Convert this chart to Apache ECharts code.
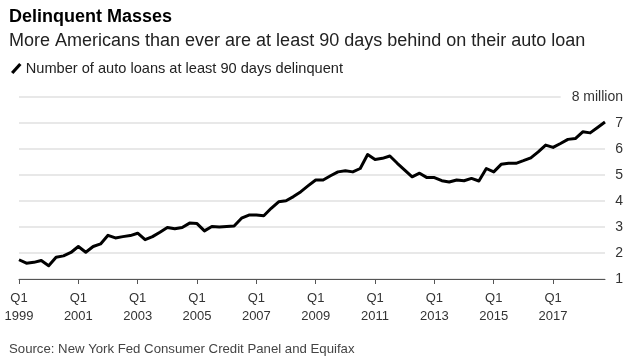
<!DOCTYPE html>
<html>
<head>
<meta charset="utf-8">
<script src="https://cdn.jsdelivr.net/npm/echarts@6/dist/echarts.min.js"></script>
<style>
html,body{margin:0;padding:0;background:#fff;}
#chart{width:640px;height:364px;}
</style>
</head>
<body>
<div id="chart"></div>
<script>
// Quarters Q1 1999 .. Q4 2018
const years = [1999,2000,2001,2002,2003,2004,2005,2006,2007,2008,2009,2010,2011,2012,2013,2014,2015,2016,2017,2018];
const quarters = ['Q1','Q2','Q3','Q4'];
const categories = [];
years.forEach(y => quarters.forEach(q => categories.push(q + ' ' + y)));

// Number of auto loans at least 90 days delinquent (millions)
const delinquent = [
  1.74, 1.61, 1.64, 1.71, 1.51, 1.84, 1.89, 2.02,
  2.25, 2.03, 2.25, 2.35, 2.68, 2.58, 2.63, 2.67,
  2.76, 2.51, 2.63, 2.80, 2.98, 2.93, 2.98, 3.15,
  3.13, 2.85, 3.02, 3.00, 3.02, 3.04, 3.34, 3.46,
  3.46, 3.43, 3.72, 3.97, 4.01, 4.17, 4.36, 4.59,
  4.81, 4.81, 4.97, 5.12, 5.16, 5.12, 5.25, 5.79,
  5.60, 5.64, 5.73, 5.45, 5.19, 4.93, 5.07, 4.90,
  4.90, 4.78, 4.73, 4.81, 4.78, 4.87, 4.77, 5.25,
  5.12, 5.41, 5.45, 5.45, 5.55, 5.66, 5.89, 6.15,
  6.06, 6.21, 6.37, 6.40, 6.66, 6.62, 6.83, 7.04
];

const titleText = 'Delinquent Masses';
const subtitleText = 'More Americans than ever are at least 90 days behind on their auto loan';
const seriesName = 'Number of auto loans at least 90 days delinquent';
const sourceText = 'Source: New York Fed Consumer Credit Panel and Equifax';

const chart = echarts.init(document.getElementById('chart'), null, {renderer: 'canvas'});
const FONT = 'Liberation Sans, Arial, sans-serif';

chart.setOption({
  animation: false,
  backgroundColor: '#fff',
  textStyle: {fontFamily: FONT},
  title: [
    {
      text: titleText,
      subtext: subtitleText,
      left: 4, top: 3,
      itemGap: 6,
      textStyle: {fontFamily: FONT, fontSize: 18, fontWeight: 'bold', color: '#000'},
      subtextStyle: {fontFamily: FONT, fontSize: 18, color: '#222'}
    },
    {
      text: sourceText,
      left: 4, bottom: 3,
      textStyle: {fontFamily: FONT, fontSize: 13.2, fontWeight: 'normal', color: '#444'}
    }
  ],
  legend: {
    left: 6, top: 56,
    itemWidth: 11, itemHeight: 11,
    itemGap: 5,
    icon: 'path://M0,9.5 L8.5,0 L11,2 L2.5,11.5 Z',
    textStyle: {fontFamily: FONT, fontSize: 14.6, color: '#222', padding: [0,0,0,-1]},
    data: [{name: seriesName, itemStyle: {color: '#000'}}]
  },
  grid: {left: 19, right: 35, top: 97, bottom: 85, containLabel: false},
  xAxis: {
    type: 'category',
    data: categories,
    boundaryGap: false,
    axisLine: {show: true, lineStyle: {color: '#555', width: 1}},
    axisTick: {show: true, interval: 7, length: 5, lineStyle: {color: '#555'}},
    axisLabel: {
      interval: 7,
      margin: 10,
      fontFamily: FONT, fontSize: 13, color: '#333', lineHeight: 18,
      formatter: v => v.replace(' ', '\n')
    },
    splitLine: {show: false}
  },
  yAxis: {
    type: 'value',
    position: 'right',
    min: 1, max: 8, interval: 1,
    axisLine: {show: false},
    axisTick: {show: false},
    splitLine: {show: true, lineStyle: {color: '#e0e0e0', width: 1.5}},
    axisLabel: {
      align: 'right',
      margin: 18,
      fontFamily: FONT, fontSize: 14, color: '#333',
      formatter: v => v === 8 ? '{m|8 million}' : String(v),
      rich: {m: {fontFamily: FONT, fontSize: 14, color: '#333', backgroundColor: '#fff', padding: [3, 0, 3, 11]}}
    }
  },
  series: [{
    name: seriesName,
    type: 'line',
    data: delinquent,
    symbol: 'none',
    lineStyle: {color: '#000', width: 3, join: 'round'},
    itemStyle: {color: '#000'}
  }]
});
</script>
</body>
</html>
